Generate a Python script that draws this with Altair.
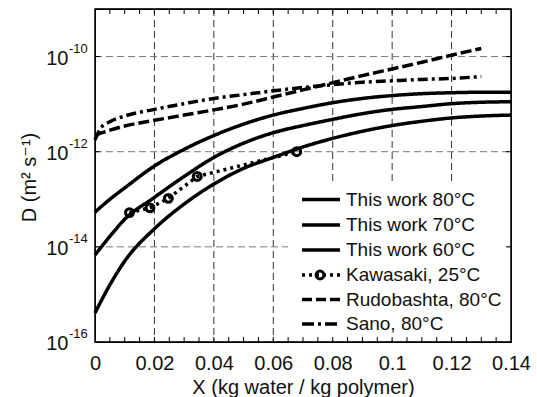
import altair as alt
import pandas as pd

FONT = "Liberation Sans, Arial, DejaVu Sans, sans-serif"

# ---- data (D values given as log10) ----
x_tw = [0, 0.005, 0.01, 0.02, 0.03, 0.04, 0.05, 0.06, 0.07, 0.08, 0.09, 0.10, 0.11, 0.12, 0.13, 0.14]
log_tw80 = [-13.27, -13.00, -12.76, -12.30, -11.95, -11.66, -11.42, -11.23, -11.09, -10.97, -10.88, -10.82, -10.78, -10.76, -10.75, -10.75]
log_tw70 = [-14.17, -13.78, -13.42, -12.96, -12.52, -12.12, -11.82, -11.60, -11.45, -11.32, -11.20, -11.11, -11.05, -10.99, -10.96, -10.95]
log_tw60 = [-15.39, -14.80, -14.30, -13.62, -13.10, -12.68, -12.35, -12.12, -11.90, -11.72, -11.57, -11.45, -11.36, -11.29, -11.25, -11.23]

x_rudo = [0, 0.01, 0.02, 0.03, 0.04, 0.05, 0.06, 0.07, 0.08, 0.09, 0.10, 0.11, 0.12, 0.13]
log_rudo = [-11.65, -11.46, -11.34, -11.23, -11.12, -11.00, -10.85, -10.70, -10.55, -10.40, -10.26, -10.12, -9.97, -9.83]

x_sano = [0, 0.002, 0.005, 0.01, 0.02, 0.03, 0.04, 0.05, 0.06, 0.07, 0.08, 0.09, 0.10, 0.11, 0.12, 0.13]
log_sano = [-11.75, -11.50, -11.37, -11.25, -11.11, -10.99, -10.88, -10.80, -10.72, -10.65, -10.59, -10.54, -10.51, -10.48, -10.46, -10.42]

x_kawa = [0.0116, 0.0185, 0.0247, 0.0344, 0.0679]
log_kawa = [-13.28, -13.18, -12.98, -12.52, -12.00]

legend_labels = ["This work 80°C", "This work 70°C", "This work 60°C",
                 "Kawasaki, 25°C", "Rudobashta, 80°C", "Sano, 80°C"]

y_tick_values = [1e-16, 1e-14, 1e-12, 1e-10]
y_tick_exponents = ["-16", "-14", "-12", "-10"]
y_grid_values = [1e-14, 1e-12, 1e-10]
x_tick_values = [0, 0.02, 0.04, 0.06, 0.08, 0.10, 0.12, 0.14]
x_grid_values = [0.02, 0.04, 0.06, 0.08, 0.10, 0.12]
x_minor_values = [0.005, 0.01, 0.015, 0.02, 0.025, 0.03, 0.035, 0.04, 0.045, 0.05, 0.055,
                  0.06, 0.065, 0.07, 0.075, 0.08, 0.085, 0.09, 0.095, 0.10, 0.105, 0.11,
                  0.115, 0.12, 0.125, 0.13, 0.135]

W, H = 416, 333


def frame(xs, logs):
    return pd.DataFrame({"x": xs, "D": [10 ** v for v in logs]})


xscale = alt.Scale(domain=[0, 0.14], nice=False, zero=False)
yscale = alt.Scale(type="log", domain=[1e-16, 1e-9], nice=False)

xaxis = alt.Axis(values=x_tick_values, format=".2~f", grid=False, ticks=False, tickSize=0,
                 domain=False, labelFontSize=20, labelPadding=27, labelBaseline="alphabetic",
                 labelFlush=False, labelColor="#111", labelFont=FONT,
                 title="X (kg water / kg polymer)", titleFontSize=20, titleFont=FONT,
                 titleFontWeight="normal", titleColor="#111", titleY=51,
                 titleBaseline="alphabetic")
yaxis = alt.Axis(values=y_tick_values, labelExpr="'10'", grid=False, ticks=False, tickSize=0,
                 domain=False, labelFontSize=20, labelPadding=27, labelBaseline="alphabetic",
                 labelOffset=7.5, labelColor="#111", labelFont=FONT,
                 title="D (m² s⁻¹)", titleFontSize=20, titleFont=FONT,
                 titleFontWeight="normal", titleColor="#111", titleX=-60, titleY=168,
                 titleBaseline="alphabetic")


def X(field="x"):
    return alt.X(f"{field}:Q", scale=xscale, axis=xaxis)


def Y(field="D"):
    return alt.Y(f"{field}:Q", scale=yscale, axis=yaxis)


layers = []

# grid
layers.append(alt.Chart(pd.DataFrame({"x": x_grid_values})).mark_rule(
    color="#333", strokeWidth=1, strokeDash=[7, 4]).encode(x=X(), y=alt.value(0), y2=alt.value(H)))
layers.append(alt.Chart(pd.DataFrame({"D": y_grid_values})).mark_rule(
    color="#777", strokeWidth=1, strokeDash=[7, 4]).encode(y=Y(), x=alt.value(0), x2=alt.value(W)))

# legend background
layers.append(alt.Chart(pd.DataFrame({"a": [0]})).mark_rect(color="white").encode(
    x=alt.value(193), x2=alt.value(413), y=alt.value(176), y2=alt.value(331)))

LW = 3.5
styles = {
    "tw80": dict(strokeDash=[1, 0]),
    "tw70": dict(strokeDash=[1, 0]),
    "tw60": dict(strokeDash=[1, 0]),
    "kawa": dict(strokeDash=[3, 4]),
    "rudo": dict(strokeDash=[11, 4]),
    "sano": dict(strokeDash=[10, 4, 3, 4]),
}

series = [("tw80", x_tw, log_tw80), ("tw70", x_tw, log_tw70), ("tw60", x_tw, log_tw60),
          ("rudo", x_rudo, log_rudo), ("sano", x_sano, log_sano), ("kawa", x_kawa, log_kawa)]
for key, xs, logs in series:
    interp = "linear" if key == "kawa" else "monotone"
    layers.append(alt.Chart(frame(xs, logs)).mark_line(
        color="black", strokeWidth=LW, strokeCap="butt", interpolate=interp,
        **styles[key]).encode(x=X(), y=Y()))

MS = 62
MSW = 3
layers.append(alt.Chart(frame(x_kawa, log_kawa)).mark_point(
    shape="circle", size=MS, filled=False, color="black", strokeWidth=MSW, opacity=1).encode(x=X(), y=Y()))

# y exponent labels
layers.append(alt.Chart(pd.DataFrame({"D": y_tick_values, "e": y_tick_exponents})).mark_text(
    align="left", baseline="alphabetic", fontSize=13, font=FONT, color="#111", dy=-4).encode(
    y=Y(), x=alt.value(-26), text="e:N"))

# ticks (inward)
TL = 5
xt = pd.DataFrame({"x": x_minor_values})
layers.append(alt.Chart(xt).mark_rule(color="black", strokeWidth=1).encode(
    x=X(), y=alt.value(H), y2=alt.value(H - TL)))
layers.append(alt.Chart(xt).mark_rule(color="black", strokeWidth=1).encode(
    x=X(), y=alt.value(0), y2=alt.value(TL)))
yt = pd.DataFrame({"D": y_grid_values})
layers.append(alt.Chart(yt).mark_rule(color="black", strokeWidth=1).encode(
    y=Y(), x=alt.value(0), x2=alt.value(TL)))
layers.append(alt.Chart(yt).mark_rule(color="black", strokeWidth=1).encode(
    y=Y(), x=alt.value(W), x2=alt.value(W - TL)))

# legend
row_y = [190.5, 216, 241, 266, 290.5, 315]
keys = ["tw80", "tw70", "tw60", "kawa", "rudo", "sano"]
legend_dash = {"tw80": [1, 0], "tw70": [1, 0], "tw60": [1, 0], "kawa": [3, 4],
               "rudo": [10, 4], "sano": [12, 4, 3, 4]}
one = pd.DataFrame({"a": [0]})
for key, lab, ry in zip(keys, legend_labels, row_y):
    layers.append(alt.Chart(one).mark_rule(color="black", strokeWidth=LW, strokeCap="butt",
                                           strokeDash=legend_dash[key]).encode(
        x=alt.value(207), x2=alt.value(245), y=alt.value(ry)))
    if key == "kawa":
        layers.append(alt.Chart(one).mark_point(shape="circle", size=MS, filled=False, color="black",
                                                strokeWidth=MSW, opacity=1).encode(
            x=alt.value(225), y=alt.value(ry)))
    layers.append(alt.Chart(pd.DataFrame({"t": [lab]})).mark_text(
        align="left", baseline="middle", fontSize=19, font=FONT, color="#111").encode(
        x=alt.value(251), y=alt.value(ry), text="t:N"))

# plot frame
layers.append(alt.Chart(one).mark_rect(fill=None, stroke="black", strokeWidth=1.3,
                                       fillOpacity=0).encode(
    x=alt.value(0), x2=alt.value(W), y=alt.value(0), y2=alt.value(H)))

chart = alt.layer(*layers).properties(
    width=W, height=H,
    background="white",
    autosize=alt.AutoSizeParams(type="none"),
    padding={"left": 95, "top": 9, "right": 26, "bottom": 55},
).configure_view(stroke="black", strokeWidth=1.2)

chart.save("out.html", embed_options={"renderer": "svg", "actions": False})
